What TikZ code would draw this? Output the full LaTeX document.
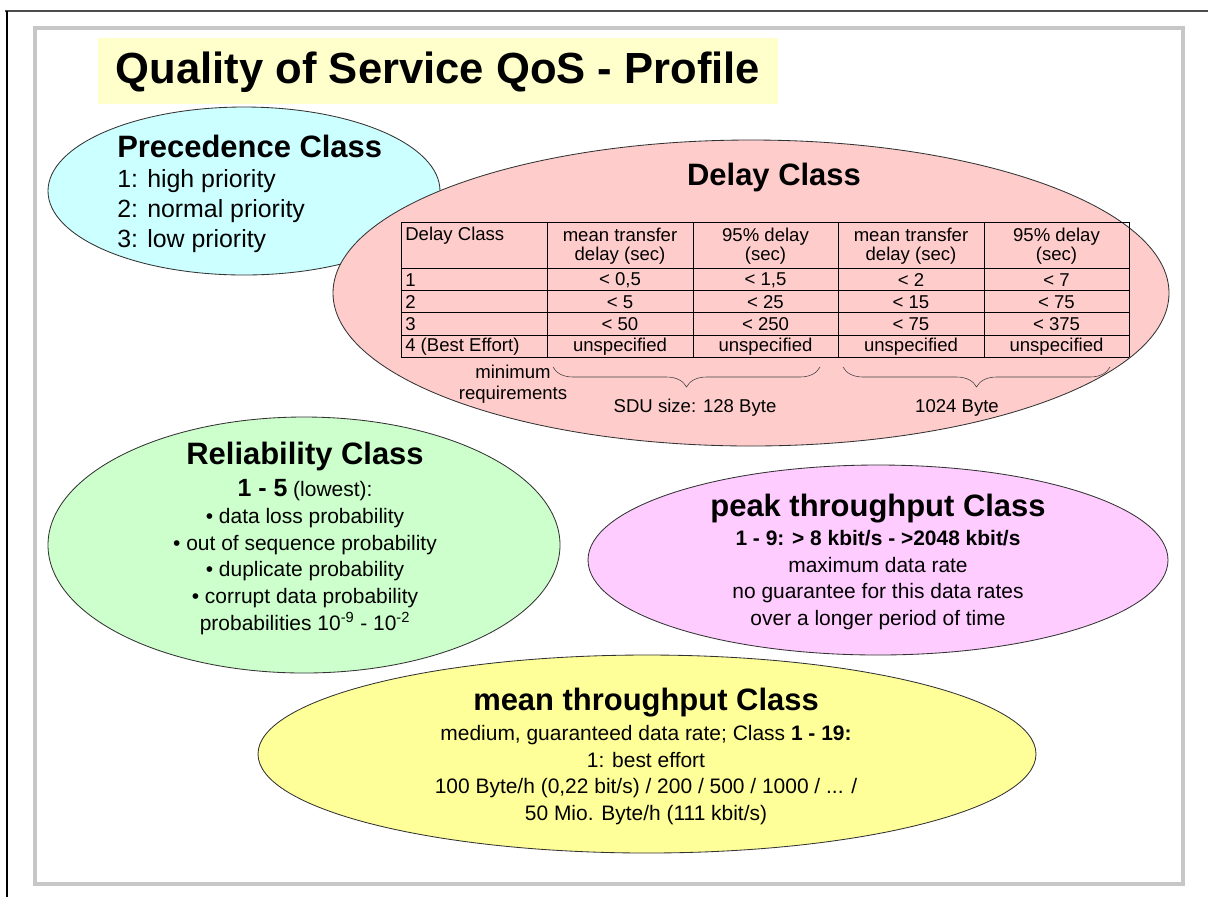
\documentclass[tikz,border=0pt]{standalone}
\usepackage{fontspec}
\setmainfont{Liberation Sans}
\usetikzlibrary{decorations.pathreplacing}

\definecolor{titulek}{HTML}{FFFFCC}
\definecolor{azurova}{HTML}{CCFFFF}
\definecolor{ruzova}{HTML}{FFCCCC}
\definecolor{zelena}{HTML}{CCFFCC}
\definecolor{fialova}{HTML}{FFCCFF}
\definecolor{zluta}{HTML}{FFFF99}

\begin{document}
\begin{tikzpicture}[x=0.025cm, y=-0.025cm, inner sep=0pt,
  okraj/.style={draw=black!80, line width=0.6pt},
  trida/.style={font=\fontsize{22}{26}\selectfont\bfseries},
  popis/.style={font=\fontsize{14.9}{19}\selectfont, align=center},
  tab/.style={font=\fontsize{13.2}{13.6}\selectfont}]

\useasboundingbox (0,0) rectangle (1208,897);

% Rámeček
\draw[black!70, line width=0.8pt] (5,11) -- (1208,11);
\draw[black, line width=1pt] (7,11) -- (7,897);
\draw[black!22, line width=2.2pt] (35,28) rectangle (1183,884);

% Nadpis
\fill[titulek] (98,38) rectangle (778,104);
\node[font=\fontsize{31}{36}\selectfont\bfseries] (nadpis) at (438,72) {Quality of Service QoS - Profile};

% Precedence Class
\draw[okraj, fill=azurova] (244,191) ellipse [x radius=196, y radius=84];
\node[trida, anchor=west] (prec) at (117,146) {Precedence Class};
\node[font=\fontsize{17.7}{21.3}\selectfont, align=left, anchor=west] (prec1) at (117,211)
  {1: high priority\\ 2: normal priority\\ 3: low priority};

% Delay Class
\draw[okraj, fill=ruzova] (751,293) ellipse [x radius=418, y radius=153];
\node[trida] (delay) at (774,177) {Delay Class};

% Tabulka
\foreach \x in {401,547,693,838,984,1129}
  \draw[line width=0.7pt] (\x,222) -- (\x,357);
\foreach \y in {222,268,290,312,335,357}
  \draw[line width=0.7pt] (401,\y) -- (1129,\y);

\node[tab, anchor=west] (h0) at (405,236) {Delay Class};
\foreach \x/\t [count=\i] in {620/{mean transfer\\delay (sec)}, 765.5/{95\% delay\\(sec)},
                              911/{mean transfer\\delay (sec)}, 1056.5/{95\% delay\\(sec)}}
  \node[tab, align=center] (h\i) at (\x,246) {\t};

\foreach \y/\a/\b/\c/\d/\e [count=\r] in {
    280/1/{< 0,5}/{< 1,5}/{< 2}/{< 7},
    302/2/{< 5}/{< 25}/{< 15}/{< 75},
    324/3/{< 50}/{< 250}/{< 75}/{< 375},
    347/4 (Best Effort)/unspecified/unspecified/unspecified/unspecified}
{
  \node[tab, anchor=west] (r\r-0) at (405,\y) {\a};
  \node[tab] (r\r-1) at (620,\y) {\b};
  \node[tab] (r\r-2) at (765.5,\y) {\c};
  \node[tab] (r\r-3) at (911,\y) {\d};
  \node[tab] (r\r-4) at (1056.5,\y) {\e};
}

% Závorky pod tabulkou
\coordinate (b1a) at (553,367);
\coordinate (b1b) at (820,367);
\coordinate (b2a) at (843,367);
\coordinate (b2b) at (1110,367);
\draw[black!75, decorate, decoration={brace, mirror, amplitude=0.5cm}] (b1a) -- (b1b);
\draw[black!75, decorate, decoration={brace, mirror, amplitude=0.5cm}] (b2a) -- (b2b);

\node[tab, align=center, font=\fontsize{13.2}{15}\selectfont] (minreq) at (513,384) {minimum\\requirements};
\node[tab] (sdu1) at (695,408) {SDU size: 128 Byte};
\node[tab] (sdu2) at (957,408) {1024 Byte};

% Reliability Class
\draw[okraj, fill=zelena] (304,545) ellipse [x radius=256, y radius=128];
\node[trida] (rel) at (305,456) {Reliability Class};
\node[popis] (rel1) at (305,557)
  {{\fontsize{17.7}{19}\selectfont\bfseries 1 - 5} (lowest):\\
   \textbullet{} data loss probability\\
   \textbullet{} out of sequence probability\\
   \textbullet{} duplicate probability\\
   \textbullet{} corrupt data probability\\
   probabilities 10\textsuperscript{-9} - 10\textsuperscript{-2}};

% peak throughput Class
\draw[okraj, fill=fialova] (878,560) ellipse [x radius=290, y radius=95];
\node[trida] (peak) at (878,509) {peak throughput Class};
\node[popis] (peak1) at (878,580)
  {\textbf{1 - 9: > 8 kbit/s - >2048 kbit/s}\\
   maximum data rate\\
   no guarantee for this data rates\\
   over a longer period of time};

% mean throughput Class
\draw[okraj, fill=zluta] (647,754) ellipse [x radius=389, y radius=99];
\node[trida] (mean) at (646,703) {mean throughput Class};
\node[popis] (mean1) at (646,775)
  {medium, guaranteed data rate; Class \textbf{1 - 19:}\\
   1: best effort\\
   100 Byte/h (0,22 bit/s) / 200 / 500 / 1000 / ... /\\
   50 Mio. Byte/h (111 kbit/s)};

\end{tikzpicture}
\end{document}
